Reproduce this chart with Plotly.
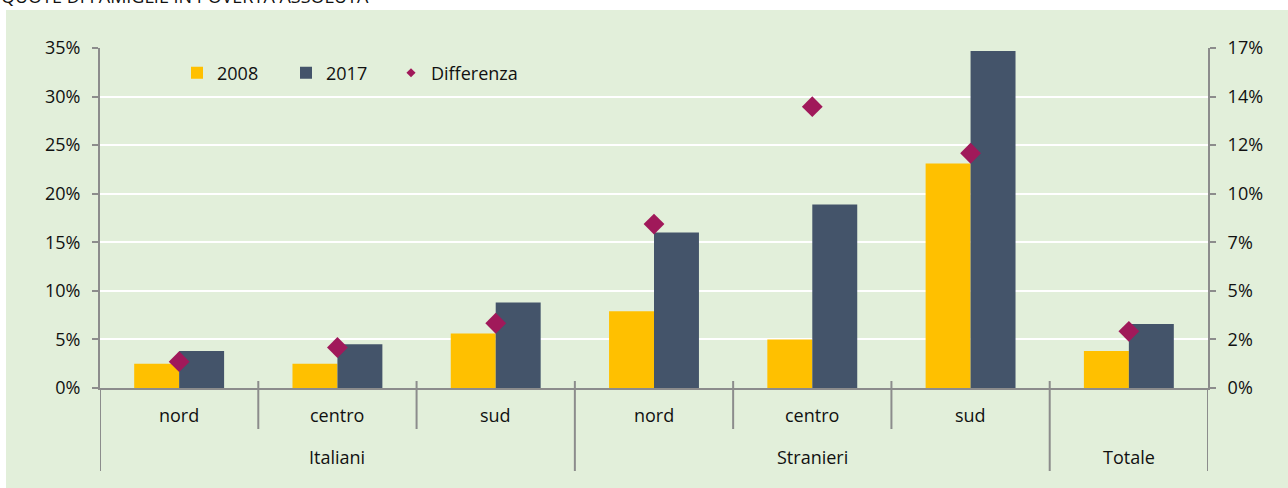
import plotly.graph_objects as go

# ---- data ----
groups = ["Italiani", "Italiani", "Italiani", "Stranieri", "Stranieri", "Stranieri", "Totale"]
areas = ["nord", "centro", "sud", "nord", "centro", "sud", ""]
v2008 = [2.5, 2.5, 5.6, 7.9, 5.0, 23.1, 3.8]
v2017 = [3.8, 4.5, 8.8, 16.0, 18.9, 34.7, 6.6]
diff = [1.3, 2.0, 3.2, 8.1, 13.9, 11.6, 2.8]
y2_tickvals = [0, 2.4, 4.8, 7.2, 9.6, 12.0, 14.4, 16.8]
y2_ticktext = ["0%", "2%", "5%", "7%", "10%", "12%", "14%", "17%"]
title_text = "QUOTE DI FAMIGLIE IN POVERTÀ ASSOLUTA"

cats = [f"{g} {a}".strip() for g, a in zip(groups, areas)]

BG = "#E2EFDA"
GRAY = "#8C8C8C"
TXT = "#111111"
FONT = "Open Sans"
W, H = 1288, 488
ML, MR, MT, MB = 100, 80, 48, 100
PW, PH = W - ML - MR, H - MT - MB

def py(px):
    return 1 - (px - MT) / PH

def pxx(px):
    return (px - ML) / PW

fig = go.Figure()
fig.add_trace(go.Bar(x=cats, y=v2008, name="2008", marker=dict(color="#FFC000", line=dict(width=0))))
fig.add_trace(go.Bar(x=cats, y=v2017, name="2017", marker=dict(color="#44546A", line=dict(width=0))))
fig.add_trace(go.Scatter(x=cats, y=diff, name="Differenza", mode="markers", yaxis="y2",
                         showlegend=False,
                         marker=dict(symbol="diamond", size=16, color="#A0195A", line=dict(width=0))))
# legend entry for the diamond series (smaller symbol, like the reference legend)
fig.add_trace(go.Scatter(x=[None], y=[None], name="Differenza", mode="markers", yaxis="y2",
                         legend="legend2",
                         marker=dict(symbol="diamond", size=7, color="#A0195A", line=dict(width=0))))

shapes = []
# white strips outside the green panel
shapes.append(dict(type="rect", xref="paper", yref="paper", x0=pxx(-20), x1=pxx(W + 20),
                   y0=py(10), y1=py(-40), fillcolor="white", line=dict(width=0), layer="below"))
shapes.append(dict(type="rect", xref="paper", yref="paper", x0=pxx(-20), x1=pxx(6),
                   y0=py(H + 20), y1=py(-40), fillcolor="white", line=dict(width=0), layer="below"))
# category separators
n = len(cats)
for i in range(n + 1):
    xpos = i - 0.5
    outer_sep = i == 0 or i == n or groups[i] != groups[i - 1]
    y_end = py(471) if outer_sep else py(429)
    y_start = py(381) if i not in (0, n) else 0
    shapes.append(dict(type="line", xref="x", yref="paper", x0=xpos, x1=xpos,
                       y0=y_start, y1=y_end, line=dict(color=GRAY, width=2)))

annotations = []
for c, a in zip(cats, areas):
    if a:
        annotations.append(dict(x=c, y=py(415), xref="x", yref="paper", text=a, showarrow=False,
                                yanchor="middle", font=dict(family=FONT, size=18, color=TXT)))
outer = {}
for i, g in enumerate(groups):
    outer.setdefault(g, []).append(i)
for g, idx in outer.items():
    mid = (idx[0] + idx[-1]) / 2
    annotations.append(dict(x=mid, y=py(457), xref="x", yref="paper", text=g, showarrow=False,
                            yanchor="middle", font=dict(family=FONT, size=18, color=TXT)))
annotations.append(dict(x=pxx(-1), y=py(10), xref="paper", yref="paper", text=title_text,
                        showarrow=False, xanchor="left", yanchor="bottom",
                        font=dict(family=FONT, size=18, color=TXT)))

fig.update_layout(
    width=W, height=H,
    margin=dict(l=ML, r=MR, t=MT, b=MB, pad=0),
    paper_bgcolor=BG, plot_bgcolor=BG,
    font=dict(family=FONT, size=18, color=TXT),
    barmode="group", bargap=0.432, bargroupgap=0,
    showlegend=True,
    legend=dict(orientation="h", x=pxx(177), y=py(73), xanchor="left", yanchor="middle",
                bgcolor="rgba(0,0,0,0)", entrywidth=64, entrywidthmode="pixels",
                font=dict(family=FONT, size=18, color=TXT), itemclick=False),
    legend2=dict(orientation="h", x=pxx(391), y=py(73), xanchor="left", yanchor="middle",
                 bgcolor="rgba(0,0,0,0)",
                 font=dict(family=FONT, size=18, color=TXT), itemclick=False),
    xaxis=dict(showticklabels=False, ticks="", showline=True, linecolor=GRAY, linewidth=2,
               showgrid=False, zeroline=False, range=[-0.5, n - 0.5]),
    yaxis=dict(range=[0, 35], dtick=5, ticksuffix="%", showgrid=True, gridcolor="white", gridwidth=2,
               showline=True, linecolor=GRAY, linewidth=2, ticks="outside", ticklen=6,
               tickcolor=GRAY, tickwidth=2, zeroline=False, ticklabelstandoff=8),
    yaxis2=dict(range=[0, 16.8], overlaying="y", side="right", tickvals=y2_tickvals,
                ticktext=y2_ticktext, showgrid=False, showline=True, linecolor=GRAY, linewidth=2,
                ticks="outside", ticklen=6, tickcolor=GRAY, tickwidth=2, zeroline=False,
                ticklabelstandoff=8),
    shapes=shapes,
    annotations=annotations,
)

fig.write_html("out.html", config={"displayModeBar": False},
               post_script="document.body.style.margin='0';")
